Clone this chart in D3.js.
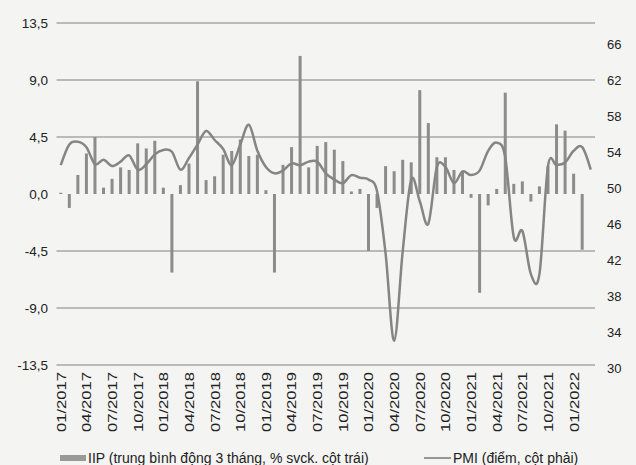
<!DOCTYPE html>
<html>
<head>
<meta charset="utf-8">
<script src="https://cdn.jsdelivr.net/npm/d3@7"></script>
<style>
  body { margin: 0; background: #f4f4f2; }
  svg { display: block; font-family: "Liberation Sans", Arial, sans-serif; }
</style>
</head>
<body>
<div id="chart"></div>
<script>
// Categories (monthly, 01/2017 - 03/2022)
let months = [
  "01/2017","02/2017","03/2017","04/2017","05/2017","06/2017","07/2017","08/2017","09/2017","10/2017","11/2017","12/2017",
  "01/2018","02/2018","03/2018","04/2018","05/2018","06/2018","07/2018","08/2018","09/2018","10/2018","11/2018","12/2018",
  "01/2019","02/2019","03/2019","04/2019","05/2019","06/2019","07/2019","08/2019","09/2019","10/2019","11/2019","12/2019",
  "01/2020","02/2020","03/2020","04/2020","05/2020","06/2020","07/2020","08/2020","09/2020","10/2020","11/2020","12/2020",
  "01/2021","02/2021","03/2021","04/2021","05/2021","06/2021","07/2021","08/2021","09/2021","10/2021","11/2021","12/2021",
  "01/2022","02/2022","03/2022"
]

// IIP, 3-month moving average, % yoy (left axis)
let iip = [
  0.1, -1.1, 1.5, 3.2, 4.5, 0.5, 1.2, 2.1, 1.9, 4.0, 3.6, 4.2,
  0.5, -6.2, 0.7, 2.4, 8.9, 1.1, 1.4, 3.1, 3.4, 4.3, 3.0, 3.1,
  0.3, -6.2, 2.3, 3.7, 10.9, 2.1, 3.8, 4.1, 3.5, 2.6, 0.2, 0.4,
  -4.5, -1.1, 2.2, 1.8, 2.7, 2.5, 8.2, 5.6, 2.9, 2.9, 1.9, 1.8,
  -0.3, -7.8, -0.9, 0.4, 8.0, 0.8, 1.0, -0.6, 0.6, 2.2, 5.5, 5.0,
  1.6, -4.4, null
]

// PMI, points (right axis)
let pmi = [
  52.2, 54.5, 54.8, 54.2, 52.3, 52.8, 52.1, 52.6, 53.3, 51.7, 52.3, 53.4,
  53.9, 53.7, 51.7, 53.0, 54.5, 56.0, 55.0, 54.0, 52.2, 54.5, 56.7, 53.8,
  52.0, 51.3, 51.6, 52.4, 52.2, 52.6, 52.6, 51.3, 50.6, 50.2, 51.1, 50.8,
  50.6, 49.3, 42.4, 32.7, 42.6, 50.6, 48.2, 45.7, 52.0, 52.0, 50.2, 51.5,
  51.1, 51.6, 53.8, 54.7, 53.1, 44.2, 44.9, 40.1, 40.1, 52.1, 52.2, 52.5,
  53.8, 54.2, 51.7
]

// Tick labels
let leftTicks = [13.5, 9.0, 4.5, 0.0, -4.5, -9.0, -13.5]
let rightTicks = [66, 62, 58, 54, 50, 46, 42, 38, 34, 30]
let xTickLabels = months.filter((m, i) => i % 3 === 0 && i < 61)

let iipLabel = 'IIP (trung bình động 3 tháng, % svck. cột trái)'
let pmiLabel = 'PMI (điểm, cột phải)'

// Set bounds
let svgWidth = 636, svgHeight = 465
let plot = { left: 56.5, right: 595, top: 23, bottom: 365 }
let fmt = v => d3.format('.1f')(v).replace('.', ',').replace('−', '-')

let svg = d3.select('#chart')
  .append('svg')
  .attr('width', svgWidth)
  .attr('height', svgHeight)

let x = d3.scalePoint()
  .domain(months)
  .range([plot.left, plot.right])
  .padding(0.5)

let yL = d3.scaleLinear().domain([-13.5, 13.5]).range([plot.bottom, plot.top])
let yR = d3.scaleLinear().domain([30, 68]).range([plot.bottom, plot.top])

// Gridlines (no line at zero)
svg.append('g')
  .selectAll('line')
  .data(leftTicks.filter(d => d !== 0))
  .join('line')
  .attr('x1', plot.left).attr('x2', plot.right)
  .attr('y1', d => yL(d)).attr('y2', d => yL(d))
  .attr('stroke', '#808080')
  .attr('stroke-width', 1)

// Left axis
let gL = svg.append('g')
  .attr('transform', 'translate(48,0)')
  .call(d3.axisLeft(yL).tickValues(leftTicks).tickSize(0).tickPadding(0).tickFormat(fmt))
gL.select('.domain').remove()
gL.selectAll('text').attr('font-size', 13.5).attr('fill', '#222').attr('font-family', null)

// Right axis
let gR = svg.append('g')
  .attr('transform', 'translate(607,3)')
  .call(d3.axisRight(yR).tickValues(rightTicks).tickSize(0).tickPadding(0))
gR.select('.domain').remove()
gR.selectAll('text').attr('font-size', 13).attr('fill', '#222').attr('font-family', null)

// X axis labels (tall, narrow text)
let gX = svg.append('g')
  .attr('transform', 'translate(0,' + (plot.bottom + 7) + ')')
  .call(d3.axisBottom(x).tickValues(xTickLabels).tickSize(0).tickPadding(0))
gX.select('.domain').remove()
gX.selectAll('text')
  .attr('font-size', 12.5)
  .attr('fill', '#222')
  .attr('font-family', null)
  .attr('text-anchor', 'end')
  .attr('transform', 'rotate(-90) scale(1.33,1)')
  .attr('x', 0)
  .attr('y', 0)
  .attr('dy', '0.35em')

// IIP bars
let barW = 3
svg.append('g')
  .selectAll('rect')
  .data(months.map((m, i) => ({ m: m, v: iip[i] })).filter(d => d.v !== null))
  .join('rect')
  .attr('x', d => x(d.m) - barW / 2)
  .attr('y', d => yL(Math.max(0, d.v)))
  .attr('width', barW)
  .attr('height', d => Math.abs(yL(d.v) - yL(0)))
  .attr('fill', '#8c8c8c')

// PMI line
let line = d3.line()
  .x(d => x(d.m))
  .y(d => yR(d.v))
  .curve(d3.curveCardinal.tension(0))

svg.append('path')
  .datum(months.map((m, i) => ({ m: m, v: pmi[i] })))
  .attr('fill', 'none')
  .attr('stroke', '#858585')
  .attr('stroke-width', 2.5)
  .attr('stroke-linejoin', 'round')
  .attr('d', line)

// Legend
let lg = svg.append('g').attr('transform', 'translate(0,458)')
lg.append('rect')
  .attr('x', 60).attr('y', -3).attr('width', 26).attr('height', 6)
  .attr('fill', '#999')
lg.append('text')
  .attr('x', 88).attr('y', 5)
  .attr('font-size', 14).attr('fill', '#222')
  .text(iipLabel)
lg.append('line')
  .attr('x1', 424).attr('x2', 451).attr('y1', 0).attr('y2', 0)
  .attr('stroke', '#777').attr('stroke-width', 1.5)
lg.append('text')
  .attr('x', 453).attr('y', 5)
  .attr('font-size', 14).attr('fill', '#222')
  .text(pmiLabel)
</script>
</body>
</html>
